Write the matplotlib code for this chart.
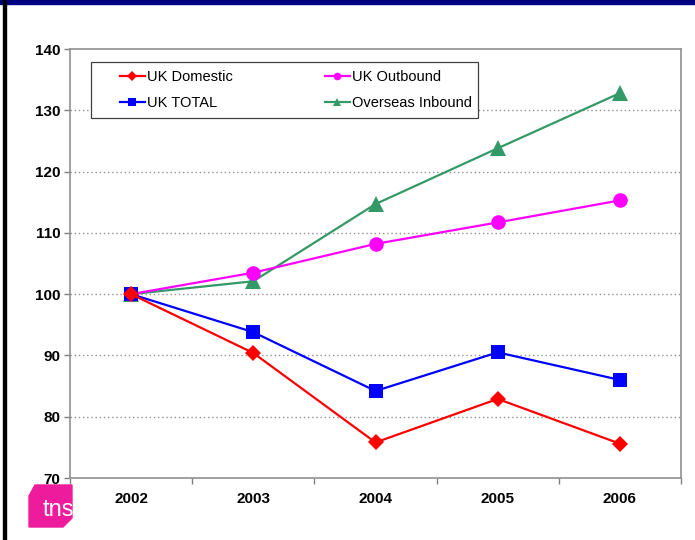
import matplotlib
matplotlib.use('Agg')
import matplotlib.pyplot as plt
from matplotlib.patches import Polygon, Rectangle
from matplotlib.lines import Line2D
import numpy as np

plt.rcParams['font.family'] = ['Liberation Sans', 'DejaVu Sans']

years = ['2002', '2003', '2004', '2005', '2006']
uk_domestic = [100, 90.4, 75.8, 82.9, 75.6]
uk_total = [100, 93.8, 84.2, 90.5, 86.0]
uk_outbound = [100, 103.5, 108.2, 111.7, 115.3]
overseas_inbound = [100, 102.1, 114.7, 123.8, 132.8]

series = [
    ('UK Domestic', uk_domestic, '#FF0000', 'D', 8.5),
    ('UK TOTAL', uk_total, '#0000FF', 's', 10),
    ('UK Outbound', uk_outbound, '#FF00FF', 'o', 10.5),
    ('Overseas Inbound', overseas_inbound, '#339966', '^', 11),
]

W, H = 695, 540
fig = plt.figure(figsize=(W / 100, H / 100), dpi=100)
ax = fig.add_axes([70 / W, 1 - 478 / H, 611 / W, 429 / H])

x = np.arange(len(years))
# draw in reverse so red/blue sit on top like the original
for name, vals, col, mk, ms in series[::-1]:
    ax.plot(x, vals, color=col, lw=1.6, marker=mk, markersize=ms,
            markeredgewidth=0, label=name)

ax.set_xlim(-0.5, len(years) - 0.5)
ax.set_ylim(70, 140)
ax.set_yticks(range(70, 141, 10))
ax.set_xticks(x)
ax.set_xticklabels(years)
ax.set_xticks(np.arange(-0.5, len(years)), minor=True)
ax.tick_params(axis='x', which='major', length=0, pad=10)
ax.tick_params(axis='x', which='minor', length=4, color='#808080', width=1)
ax.tick_params(axis='y', length=4, color='#808080', width=1, pad=3)
for lab in ax.get_xticklabels() + ax.get_yticklabels():
    lab.set_fontweight('bold')
    lab.set_fontsize(11)

for v in range(80, 140, 10):
    ax.axhline(v, color='#909090', lw=1, ls=(0, (1, 2)), zorder=0)

for sp in ax.spines.values():
    sp.set_color('#909090')
    sp.set_linewidth(1.2)

# legend: entries without frame, frame drawn separately
handles = []
for name, vals, col, mk, ms in series:
    handles.append(Line2D([], [], color=col, lw=1.6, marker=mk, markersize=5.5,
                          markeredgewidth=0, label=name))
ax.legend(handles=handles, ncol=2, loc='center',
          bbox_to_anchor=(50 / 611, 1 - 69 / 429, 352 / 611, 56 / 429),
          mode='expand', frameon=False, fontsize=10.5, handlelength=1.7,
          handletextpad=0.15, borderpad=0, labelspacing=0.85, borderaxespad=0)
ax.add_patch(Rectangle((21 / 611, 1 - 69 / 429), 387 / 611, 56 / 429,
                       transform=ax.transAxes, fill=True, facecolor='white',
                       edgecolor='#404040', lw=0.9, zorder=4))

# navy band at the top and dark border on the left
fig.patches.append(Rectangle((0, 1 - 4 / H), 1, 4 / H, transform=fig.transFigure,
                             color='#000080', zorder=5))
fig.patches.append(Rectangle((3 / W, 0), 2.5 / W, 1, transform=fig.transFigure,
                             color='black', zorder=5))

# tns logo (clipped at the plot edge)
pts = [(35, 485), (72, 485), (72, 518), (63, 527), (29, 527), (29, 496)]
logo = Polygon([(px / W, 1 - py / H) for px, py in pts], closed=True,
               transform=fig.transFigure, color='#EE1C9C', zorder=3)
fig.patches.append(logo)
t = fig.text(43 / W, 1 - 510 / H, 'tns', color='white', fontsize=17,
             ha='left', va='center', zorder=4)
t.set_clip_path(logo)

fig.savefig('out.png', dpi=100)
